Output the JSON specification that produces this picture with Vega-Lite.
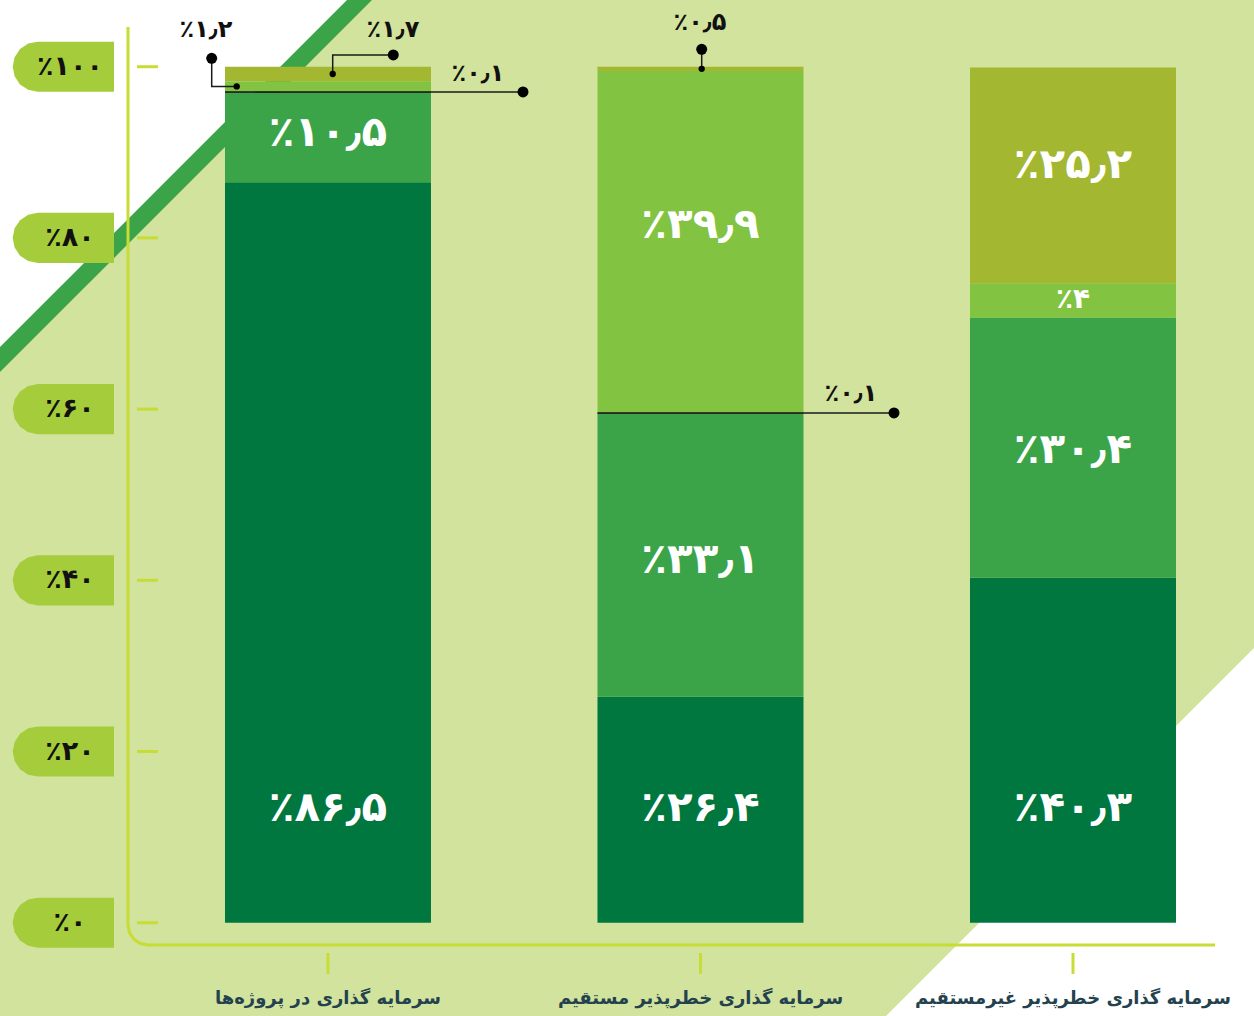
{
  "$schema": "https://vega.github.io/schema/vega-lite/v6.json",
  "width": 1087,
  "height": 918,
  "autosize": {"type": "none"},
  "padding": {"left": 128, "top": 27, "right": 39, "bottom": 71},
  "background": "#D1E39D",
  "config": {"view": {"stroke": null}, "font": "DejaVu Sans"},
  "resolve": {"scale": {"x": "independent"}, "axis": {"x": "independent"}},
  "layer": [
    {
      "layer": [
        {
          "data": {"values": [
            {"u": 0.11946, "lo": 64.33, "hi": 107.79},
            {"u": 1.11812, "lo": 107.79, "hi": 107.79}
          ]},
          "mark": {"type": "area", "orient": "vertical", "color": "#3BA449"},
          "encoding": {
            "x": {"field": "u", "type": "quantitative", "axis": null, "scale": {"type": "linear", "domain": [0.463087, 3.381208], "nice": false, "zero": false}},
            "y": {"field": "lo", "type": "quantitative", "axis": null, "scale": {"domain": [-2.605, 104.64], "nice": false, "zero": false}},
            "y2": {"field": "hi"}
          }
        },
        {
          "data": {"values": [
            {"u": 0.11946, "lo": 67.25, "hi": 107.79},
            {"u": 1.05101, "lo": 107.79, "hi": 107.79}
          ]},
          "mark": {"type": "area", "orient": "vertical", "color": "#FFFFFF"},
          "encoding": {
            "x": {"field": "u", "type": "quantitative", "axis": null, "scale": {"type": "linear", "domain": [0.463087, 3.381208], "nice": false, "zero": false}},
            "y": {"field": "lo", "type": "quantitative", "axis": null, "scale": {"domain": [-2.605, 104.64], "nice": false, "zero": false}},
            "y2": {"field": "hi"}
          }
        },
        {
          "data": {"values": [
            {"u": 2.49799, "lo": -10.9, "hi": -10.9},
            {"u": 3.48591, "lo": -10.9, "hi": 32.09}
          ]},
          "mark": {"type": "area", "orient": "vertical", "color": "#FFFFFF"},
          "encoding": {
            "x": {"field": "u", "type": "quantitative", "axis": null, "scale": {"type": "linear", "domain": [0.463087, 3.381208], "nice": false, "zero": false}},
            "y": {"field": "lo", "type": "quantitative", "axis": null, "scale": {"domain": [-2.605, 104.64], "nice": false, "zero": false}},
            "y2": {"field": "hi"}
          }
        },
        {
          "data": {"values": [
            {"ord": 1, "u": 0.463087, "v": 104.64},
            {"ord": 2, "u": 0.463087, "v": -0.2687},
            {"ord": 3, "u": 0.46717, "v": -1.1624},
            {"ord": 4, "u": 0.47882, "v": -1.9206},
            {"ord": 5, "u": 0.49624, "v": -2.4276},
            {"ord": 6, "u": 0.51678, "v": -2.6051},
            {"ord": 7, "u": 3.381208, "v": -2.6051}
          ]},
          "mark": {"type": "line", "color": "#C8DC36", "strokeWidth": 3, "interpolate": "linear"},
          "encoding": {
            "x": {"field": "u", "type": "quantitative", "axis": null, "scale": {"type": "linear", "domain": [0.463087, 3.381208], "nice": false, "zero": false}},
            "y": {"field": "v", "type": "quantitative", "axis": null, "scale": {"domain": [-2.605, 104.64], "nice": false, "zero": false}},
            "order": {"field": "ord", "type": "quantitative"}
          }
        },
        {
          "data": {"values": [
            {"t": 0, "label": "٪۰"},
            {"t": 20, "label": "٪۲۰"},
            {"t": 40, "label": "٪۴۰"},
            {"t": 60, "label": "٪۶۰"},
            {"t": 80, "label": "٪۸۰"},
            {"t": 100, "label": "٪۱۰۰"}
          ]},
          "layer": [
            {
              "mark": {"type": "rule", "color": "#C8DC36", "strokeWidth": 3},
              "encoding": {
                "x": {"datum": 0.48725, "type": "quantitative", "axis": null, "scale": {"type": "linear", "domain": [0.463087, 3.381208], "nice": false, "zero": false}},
                "x2": {"datum": 0.54362},
                "y": {"field": "t", "type": "quantitative", "axis": null, "scale": {"domain": [-2.605, 104.64], "nice": false, "zero": false}}
              }
            },
            {
              "mark": {"type": "point", "filled": true, "opacity": 1, "color": "#A5CD3B", "strokeWidth": 0, "size": 10262,
                "shape": "M 1 -0.495 L 1 0.495 L -0.505 0.495 L -0.694 0.457 L -0.855 0.35 L -0.962 0.189 L -1 0 L -0.962 -0.189 L -0.855 -0.35 L -0.694 -0.457 L -0.505 -0.495 Z"},
              "encoding": {
                "x": {"datum": 0.28953, "type": "quantitative", "axis": null, "scale": {"type": "linear", "domain": [0.463087, 3.381208], "nice": false, "zero": false}},
                "y": {"field": "t", "type": "quantitative", "axis": null, "scale": {"domain": [-2.605, 104.64], "nice": false, "zero": false}}
              }
            },
            {
              "mark": {"type": "text", "font": "DejaVu Sans", "fontWeight": "bold", "fontSize": 27, "color": "#111111", "align": "center", "baseline": "middle"},
              "encoding": {
                "x": {"datum": 0.30738, "type": "quantitative", "axis": null, "scale": {"type": "linear", "domain": [0.463087, 3.381208], "nice": false, "zero": false}},
                "y": {"field": "t", "type": "quantitative", "axis": null, "scale": {"domain": [-2.605, 104.64], "nice": false, "zero": false}},
                "text": {"field": "label"}
              }
            }
          ]
        }
      ]
    },
    {
      "layer": [
        {
          "data": {"values": [
            {"cat": "سرمایه گذاری در پروژه‌ها", "seg": "s1", "ord": 1, "val": 86.5},
            {"cat": "سرمایه گذاری در پروژه‌ها", "seg": "s2", "ord": 2, "val": 10.5},
            {"cat": "سرمایه گذاری در پروژه‌ها", "seg": "s3", "ord": 3, "val": 0.1},
            {"cat": "سرمایه گذاری در پروژه‌ها", "seg": "s4", "ord": 4, "val": 1.2},
            {"cat": "سرمایه گذاری در پروژه‌ها", "seg": "s5", "ord": 5, "val": 1.7},
            {"cat": "سرمایه گذاری خطرپذیر مستقیم", "seg": "s1", "ord": 1, "val": 26.4},
            {"cat": "سرمایه گذاری خطرپذیر مستقیم", "seg": "s2", "ord": 2, "val": 33.1},
            {"cat": "سرمایه گذاری خطرپذیر مستقیم", "seg": "s3", "ord": 3, "val": 0.1},
            {"cat": "سرمایه گذاری خطرپذیر مستقیم", "seg": "s4", "ord": 4, "val": 39.9},
            {"cat": "سرمایه گذاری خطرپذیر مستقیم", "seg": "s5", "ord": 5, "val": 0.5},
            {"cat": "سرمایه گذاری خطرپذیر غیرمستقیم", "seg": "s1", "ord": 1, "val": 40.3},
            {"cat": "سرمایه گذاری خطرپذیر غیرمستقیم", "seg": "s2", "ord": 2, "val": 30.4},
            {"cat": "سرمایه گذاری خطرپذیر غیرمستقیم", "seg": "s4", "ord": 4, "val": 4},
            {"cat": "سرمایه گذاری خطرپذیر غیرمستقیم", "seg": "s5", "ord": 5, "val": 25.2}
          ]},
          "mark": {"type": "bar"},
          "encoding": {
            "x": {"field": "cat", "type": "nominal",
              "sort": ["سرمایه گذاری در پروژه‌ها", "سرمایه گذاری خطرپذیر مستقیم", "سرمایه گذاری خطرپذیر غیرمستقیم"],
              "scale": {"type": "band", "paddingInner": 0.44698, "paddingOuter": 0.18255, "align": 0.7132, "round": false},
              "axis": {"title": null, "domain": false, "ticks": false, "zindex": 2, "labelAngle": 0, "labelFont": "DejaVu Sans", "labelFontWeight": "bold", "labelFontSize": 18, "labelColor": "#24424E", "labelPadding": 58, "labelBaseline": "alphabetic", "labelLimit": 500, "labelOverlap": false}},
            "y": {"field": "val", "type": "quantitative", "stack": "zero", "axis": null, "scale": {"domain": [-2.605, 104.64], "nice": false, "zero": false}},
            "color": {"field": "seg", "type": "nominal", "legend": null,
              "scale": {"domain": ["s1", "s2", "s3", "s4", "s5"], "range": ["#00773F", "#3BA449", "#111111", "#82C342", "#A3B730"]}},
            "order": {"field": "ord", "type": "quantitative"}
          }
        },
        {
          "data": {"values": [
            {"cat": "سرمایه گذاری در پروژه‌ها"},
            {"cat": "سرمایه گذاری خطرپذیر مستقیم"},
            {"cat": "سرمایه گذاری خطرپذیر غیرمستقیم"}
          ]},
          "mark": {"type": "rule", "color": "#C8DC36", "strokeWidth": 3},
          "encoding": {
            "x": {"field": "cat", "type": "nominal", "sort": ["سرمایه گذاری در پروژه‌ها", "سرمایه گذاری خطرپذیر مستقیم", "سرمایه گذاری خطرپذیر غیرمستقیم"]},
            "y": {"datum": -3.54, "type": "quantitative", "scale": {"domain": [-2.605, 104.64], "nice": false, "zero": false}},
            "y2": {"datum": -5.99}
          }
        },
        {
          "data": {"values": [
            {"cat": "سرمایه گذاری در پروژه‌ها", "ly": 13.4, "label": "٪۸۶٫۵"},
            {"cat": "سرمایه گذاری در پروژه‌ها", "ly": 92.26, "label": "٪۱۰٫۵"},
            {"cat": "سرمایه گذاری خطرپذیر مستقیم", "ly": 13.4, "label": "٪۲۶٫۴"},
            {"cat": "سرمایه گذاری خطرپذیر مستقیم", "ly": 42.37, "label": "٪۳۳٫۱"},
            {"cat": "سرمایه گذاری خطرپذیر مستقیم", "ly": 81.49, "label": "٪۳۹٫۹"},
            {"cat": "سرمایه گذاری خطرپذیر غیرمستقیم", "ly": 13.4, "label": "٪۴۰٫۳"},
            {"cat": "سرمایه گذاری خطرپذیر غیرمستقیم", "ly": 55.22, "label": "٪۳۰٫۴"},
            {"cat": "سرمایه گذاری خطرپذیر غیرمستقیم", "ly": 88.52, "label": "٪۲۵٫۲"}
          ]},
          "mark": {"type": "text", "font": "DejaVu Sans", "fontWeight": "bold", "fontSize": 42, "color": "#FFFFFF", "align": "center", "baseline": "middle"},
          "encoding": {
            "x": {"field": "cat", "type": "nominal", "sort": ["سرمایه گذاری در پروژه‌ها", "سرمایه گذاری خطرپذیر مستقیم", "سرمایه گذاری خطرپذیر غیرمستقیم"]},
            "y": {"field": "ly", "type": "quantitative", "scale": {"domain": [-2.605, 104.64], "nice": false, "zero": false}},
            "text": {"field": "label"}
          }
        },
        {
          "data": {"values": [
            {"cat": "سرمایه گذاری خطرپذیر غیرمستقیم", "ly": 72.74, "label": "٪۴"}
          ]},
          "mark": {"type": "text", "font": "DejaVu Sans", "fontWeight": "bold", "fontSize": 28, "color": "#FFFFFF", "align": "center", "baseline": "middle"},
          "encoding": {
            "x": {"field": "cat", "type": "nominal", "sort": ["سرمایه گذاری در پروژه‌ها", "سرمایه گذاری خطرپذیر مستقیم", "سرمایه گذاری خطرپذیر غیرمستقیم"]},
            "y": {"field": "ly", "type": "quantitative", "scale": {"domain": [-2.605, 104.64], "nice": false, "zero": false}},
            "text": {"field": "label"}
          }
        }
      ]
    },
    {
      "layer": [
        {
          "data": {"values": [
            {"id": "a", "ord": 1, "u": 0.72349, "v": 97.05},
            {"id": "a", "ord": 2, "u": 1.52349, "v": 97.05},
            {"id": "b", "ord": 1, "u": 0.7549, "v": 97.7},
            {"id": "b", "ord": 2, "u": 0.68779, "v": 97.7},
            {"id": "b", "ord": 3, "u": 0.68779, "v": 100.98},
            {"id": "c", "ord": 1, "u": 1.01262, "v": 99.15},
            {"id": "c", "ord": 2, "u": 1.01262, "v": 101.37},
            {"id": "c", "ord": 3, "u": 1.1753, "v": 101.37},
            {"id": "d", "ord": 1, "u": 2.00322, "v": 99.75},
            {"id": "d", "ord": 2, "u": 2.00322, "v": 102.03},
            {"id": "e", "ord": 1, "u": 1.72349, "v": 59.55},
            {"id": "e", "ord": 2, "u": 2.51946, "v": 59.55}
          ]},
          "mark": {"type": "line", "color": "#1A1A1A", "strokeWidth": 1.5, "interpolate": "linear"},
          "encoding": {
            "x": {"field": "u", "type": "quantitative", "axis": null, "scale": {"type": "linear", "domain": [0.463087, 3.381208], "nice": false, "zero": false}},
            "y": {"field": "v", "type": "quantitative", "scale": {"domain": [-2.605, 104.64], "nice": false, "zero": false}},
            "detail": {"field": "id", "type": "nominal"},
            "order": {"field": "ord", "type": "quantitative"}
          }
        },
        {
          "data": {"values": [
            {"u": 1.52349, "v": 97.05},
            {"u": 0.68779, "v": 100.98},
            {"u": 1.1753, "v": 101.37},
            {"u": 2.00322, "v": 102.03},
            {"u": 2.51946, "v": 59.55}
          ]},
          "mark": {"type": "point", "shape": "circle", "filled": true, "opacity": 1, "color": "#000000", "strokeWidth": 0, "size": 120},
          "encoding": {
            "x": {"field": "u", "type": "quantitative", "axis": null, "scale": {"type": "linear", "domain": [0.463087, 3.381208], "nice": false, "zero": false}},
            "y": {"field": "v", "type": "quantitative", "scale": {"domain": [-2.605, 104.64], "nice": false, "zero": false}}
          }
        },
        {
          "data": {"values": [
            {"u": 0.7549, "v": 97.7},
            {"u": 1.01262, "v": 99.15},
            {"u": 2.00322, "v": 99.75}
          ]},
          "mark": {"type": "point", "shape": "circle", "filled": true, "opacity": 1, "color": "#000000", "strokeWidth": 0, "size": 40},
          "encoding": {
            "x": {"field": "u", "type": "quantitative", "axis": null, "scale": {"type": "linear", "domain": [0.463087, 3.381208], "nice": false, "zero": false}},
            "y": {"field": "v", "type": "quantitative", "scale": {"domain": [-2.605, 104.64], "nice": false, "zero": false}}
          }
        },
        {
          "data": {"values": [
            {"u": 0.67248, "v": 104.29, "label": "٪۱٫۲"},
            {"u": 1.1745, "v": 104.29, "label": "٪۱٫۷"},
            {"u": 1.40268, "v": 99.15, "label": "٪۰٫۱"},
            {"u": 1.99866, "v": 105.11, "label": "٪۰٫۵"},
            {"u": 2.40403, "v": 61.76, "label": "٪۰٫۱"}
          ]},
          "mark": {"type": "text", "font": "DejaVu Sans", "fontWeight": "bold", "fontSize": 24, "color": "#111111", "align": "center", "baseline": "middle"},
          "encoding": {
            "x": {"field": "u", "type": "quantitative", "axis": null, "scale": {"type": "linear", "domain": [0.463087, 3.381208], "nice": false, "zero": false}},
            "y": {"field": "v", "type": "quantitative", "scale": {"domain": [-2.605, 104.64], "nice": false, "zero": false}},
            "text": {"field": "label"}
          }
        }
      ]
    }
  ]
}
